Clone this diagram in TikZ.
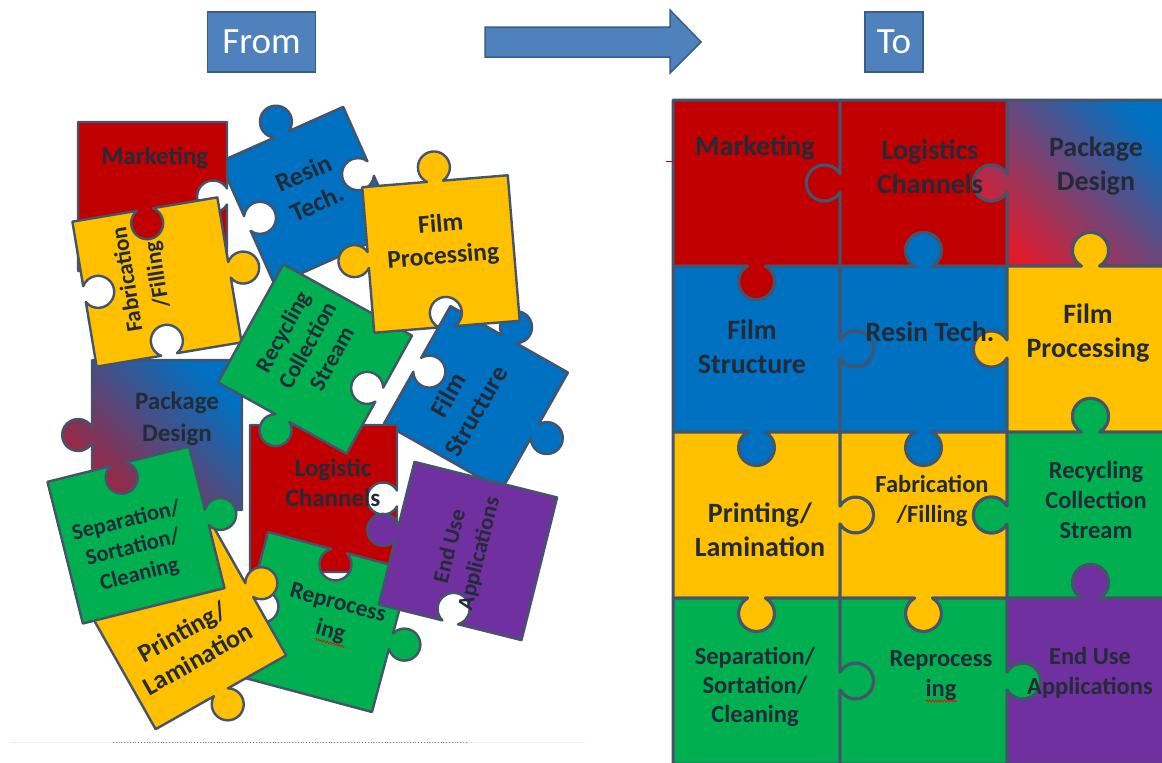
\documentclass[tikz,border=0pt]{standalone}
\usepackage{fontspec}
\setmainfont{Carlito}
\usepackage{xcolor}
\usetikzlibrary{decorations.pathmorphing}
\definecolor{pzred}{HTML}{C00000}
\definecolor{pzblue}{HTML}{0070C0}
\definecolor{pzyellow}{HTML}{FFC000}
\definecolor{pzgreen}{HTML}{00B050}
\definecolor{pzpurple}{HTML}{7030A0}
\definecolor{pdred}{HTML}{E3192B}
\definecolor{pzline}{HTML}{44546A}
\definecolor{pztext}{HTML}{232B38}
\definecolor{hdrfill}{HTML}{4F81BD}
\definecolor{hdrline}{HTML}{385D8A}
% knob radius and half neck
\newcommand\pzr{18}
\newcommand\pzn{9}
\newcommand\pzknob[2]{-- ++(#1:{#2/2-\pzn}) arc[start angle=#1+240, end angle=#1-60, radius=\pzr] -- ++(#1:{#2/2-\pzn})}
\newcommand\pzhole[2]{-- ++(#1:{#2/2-\pzn}) arc[start angle=#1+120, end angle=#1+420, radius=\pzr] -- ++(#1:{#2/2-\pzn})}
\newcommand\pzflat[2]{-- ++(#1:#2)}
\newcommand\pzpath[6]{(-#1/2,#2/2) #3{0}{#1} #4{-90}{#2} #5{180}{#1} #6{90}{#2} -- cycle}
\newcommand\pzfont[2]{\fontsize{#1}{#2}\selectfont\bfseries}

\begin{document}
\begin{tikzpicture}[x=1pt,y=1pt,
  pz/.style={draw=pzline, line width=2.4, line join=round},
  gz/.style={draw=pzline, line width=3, line join=round},
  ptext/.style={text=pztext, align=center, inner sep=0},
  hdr/.style={draw=hdrline, line width=1.5, fill=hdrfill, text=white, font=\fontsize{37}{40}\selectfont, minimum height=60, inner sep=0},
  squig/.style={red, line width=0.6, decorate, decoration={zigzag, amplitude=1.1, segment length=3}}]
\useasboundingbox (0,0) rectangle (1162,-763);

\node[hdr, minimum width=108] (from) at (261.5,-42) {From};
\node[hdr, minimum width=58] (to) at (894,-42) {To};
\draw[draw=hdrline, line width=1.5, fill=hdrfill, line join=miter] (485,-27) -- (670,-27) -- (670,-10) -- (701,-42) -- (670,-73) -- (670,-57) -- (485,-57) -- cycle;

% the pile
\renewcommand\pzr{16}\renewcommand\pzn{8}
\draw[pz, fill=pzblue, shift={(309,-196)}, rotate=24] \pzpath{135}{135}{\pzknob}{\pzhole}{\pzflat}{\pzhole};
\draw[pz, fill=pzred, shift={(152.5,-196.5)}] \pzpath{149}{149}{\pzflat}{\pzhole}{\pzknob}{\pzflat};
\draw[pz, top color=pzblue, bottom color=pdred!85!black, shading angle=-45, shift={(167,-435)}] \pzpath{150}{150}{\pzflat}{\pzflat}{\pzknob}{\pzknob};
\draw[pz, fill=pzyellow, shift={(157,-282)}, rotate=9.5] \pzpath{147}{147}{\pzhole}{\pzknob}{\pzhole}{\pzhole};
\draw[pz, fill=pzblue, shift={(476,-398)}, rotate=60.5] \pzpath{135}{135}{\pzhole}{\pzknob}{\pzknob}{\pzflat};
\draw[pz, fill=pzred, shift={(323.5,-498.5)}] \pzpath{147}{147}{\pzflat}{\pzhole}{\pzflat}{\pzflat};
\draw[pz, fill=pzgreen, shift={(315,-359)}, rotate=-29] \pzpath{147}{135}{\pzflat}{\pzhole}{\pzknob}{\pzflat};
\draw[pz, fill=pzyellow, shift={(441,-254)}, rotate=4.7] \pzpath{146}{146}{\pzknob}{\pzflat}{\pzhole}{\pzknob};
\draw[pz, fill=pzgreen, shift={(320,-622)}, rotate=-15] \pzpath{147}{147}{\pzhole}{\pzknob}{\pzflat}{\pzhole};
\draw[pz, fill=pzyellow, shift={(184,-627)}, rotate=29.5] \pzpath{150}{150}{\pzflat}{\pzknob}{\pzknob}{\pzflat};
\draw[pz, fill=pzgreen, shift={(136,-535)}, rotate=14] \pzpath{146}{146}{\pzhole}{\pzknob}{\pzflat}{\pzflat};
\draw[pz, fill=pzpurple, shift={(468,-551)}, rotate=-14] \pzpath{147}{147}{\pzflat}{\pzflat}{\pzhole}{\pzknob};

\node[ptext, font=\pzfont{25}{31}] (mkt1) at (155,-158) {Marketing};
\node[ptext, font=\pzfont{26}{33}, rotate=24] (res1) at (310,-188) {Resin\\Tech.};
\node[ptext, font=\pzfont{23}{30}, rotate=99] (fab1) at (143,-277) {Fabrication\\/Filling};
\node[ptext, font=\pzfont{25.5}{32}, rotate=4.7] (fpr1) at (442,-241) {Film\\Processing};
\node[ptext, font=\pzfont{23}{28}, rotate=61] (rcs1) at (307,-345) {Recycling\\Collection\\Stream};
\node[ptext, font=\pzfont{26}{32}, rotate=60] (fst1) at (462,-403) {Film\\Structure};
\node[ptext, font=\pzfont{25}{32}] (pkg1) at (177,-419) {Package\\Design};
\node[ptext, font=\pzfont{25}{30}] (lgc1) at (333,-483) {Logistic\\Channels};
\node[ptext, font=\pzfont{22.5}{27.5}, rotate=14] (sep1) at (133,-548) {Separation/\\Sortation/\\Cleaning};
\node[ptext, font=\pzfont{26}{31}, rotate=29.5] (prt1) at (190,-645) {Printing/\\Lamination};
\node[ptext, font=\pzfont{23.5}{29}, rotate=-15] (rep1) at (334,-618) {Reprocess\\ing};
\node[ptext, font=\pzfont{22.5}{30}, rotate=76] (eua1) at (465,-550) {End Use\\Applications};
\draw[squig] (315,-639) -- (345,-647);

\draw[gray!15, line width=0.8] (10,-742) -- (585,-742);
\draw[gray, line width=0.8, dotted] (113,-742) -- (468,-742);

% the finished grid
\renewcommand\pzr{18}\renewcommand\pzn{9}
\begin{scope}
\clip (0,0) rectangle (1162,-763);
\draw[gz, fill=pzred, shift={(756.5,-183)}] \pzpath{167}{166}{\pzflat}{\pzhole}{\pzknob}{\pzflat};
\draw[gz, fill=pzred, shift={(923.5,-183)}] \pzpath{167}{166}{\pzflat}{\pzhole}{\pzhole}{\pzknob};
\draw[gz, top color=pzblue, bottom color=pdred, shading angle=-45, shift={(1090.5,-183)}] \pzpath{167}{166}{\pzflat}{\pzflat}{\pzhole}{\pzknob};
\draw[gz, fill=pzblue, shift={(756.5,-349)}] \pzpath{167}{166}{\pzhole}{\pzknob}{\pzknob}{\pzflat};
\draw[gz, fill=pzblue, shift={(923.5,-349)}] \pzpath{167}{166}{\pzknob}{\pzhole}{\pzknob}{\pzhole};
\draw[gz, fill=pzyellow, shift={(1090.5,-349)}] \pzpath{167}{166}{\pzknob}{\pzflat}{\pzhole}{\pzknob};
\draw[gz, fill=pzyellow, shift={(756.5,-515)}] \pzpath{167}{166}{\pzhole}{\pzknob}{\pzknob}{\pzflat};
\draw[gz, fill=pzyellow, shift={(923.5,-515)}] \pzpath{167}{166}{\pzhole}{\pzhole}{\pzknob}{\pzhole};
\draw[gz, fill=pzgreen, shift={(1090.5,-515)}] \pzpath{167}{166}{\pzknob}{\pzflat}{\pzhole}{\pzknob};
\draw[gz, fill=pzgreen, shift={(756.5,-681)}] \pzpath{167}{166}{\pzhole}{\pzknob}{\pzflat}{\pzflat};
\draw[gz, fill=pzgreen, shift={(923.5,-681)}] \pzpath{167}{166}{\pzhole}{\pzknob}{\pzflat}{\pzhole};
\draw[gz, fill=pzpurple, shift={(1090.5,-681)}] \pzpath{167}{166}{\pzknob}{\pzflat}{\pzflat}{\pzhole};
\end{scope}
\draw[pzred, line width=0.6] (666,-161) -- (673,-161);

\node[ptext, font=\pzfont{28}{34}] (mkt2) at (755,-148) {Marketing};
\node[ptext, font=\pzfont{28}{34}] (lgc2) at (930,-166.5) {Logistics\\Channels};
\node[ptext, font=\pzfont{28}{34}] (pkg2) at (1096,-166.5) {Package\\Design};
\node[ptext, font=\pzfont{28}{34}] (fst2) at (752,-346.5) {Film\\Structure};
\node[ptext, font=\pzfont{28}{34}] (res2) at (930,-332) {Resin Tech.};
\node[ptext, font=\pzfont{28}{34}] (fpr2) at (1088,-333) {Film\\Processing};
\node[ptext, font=\pzfont{28}{34}] (prt2) at (760,-530) {Printing/\\Lamination};
\node[ptext, font=\pzfont{24.5}{30}] (fab2) at (932,-501) {Fabrication\\/Filling};
\node[ptext, font=\pzfont{24.5}{30}] (rcs2) at (1096,-500) {Recycling\\Collection\\Stream};
\node[ptext, font=\pzfont{24.5}{29}] (sep2) at (755,-687) {Separation/\\Sortation/\\Cleaning};
\node[ptext, font=\pzfont{24.5}{30}] (rep2) at (941,-676) {Reprocess\\ing};
\node[ptext, font=\pzfont{24.5}{30}] (eua2) at (1090,-673) {End Use\\Applications};
\draw[squig] (926,-701) -- (957,-701);
\end{tikzpicture}
\end{document}
